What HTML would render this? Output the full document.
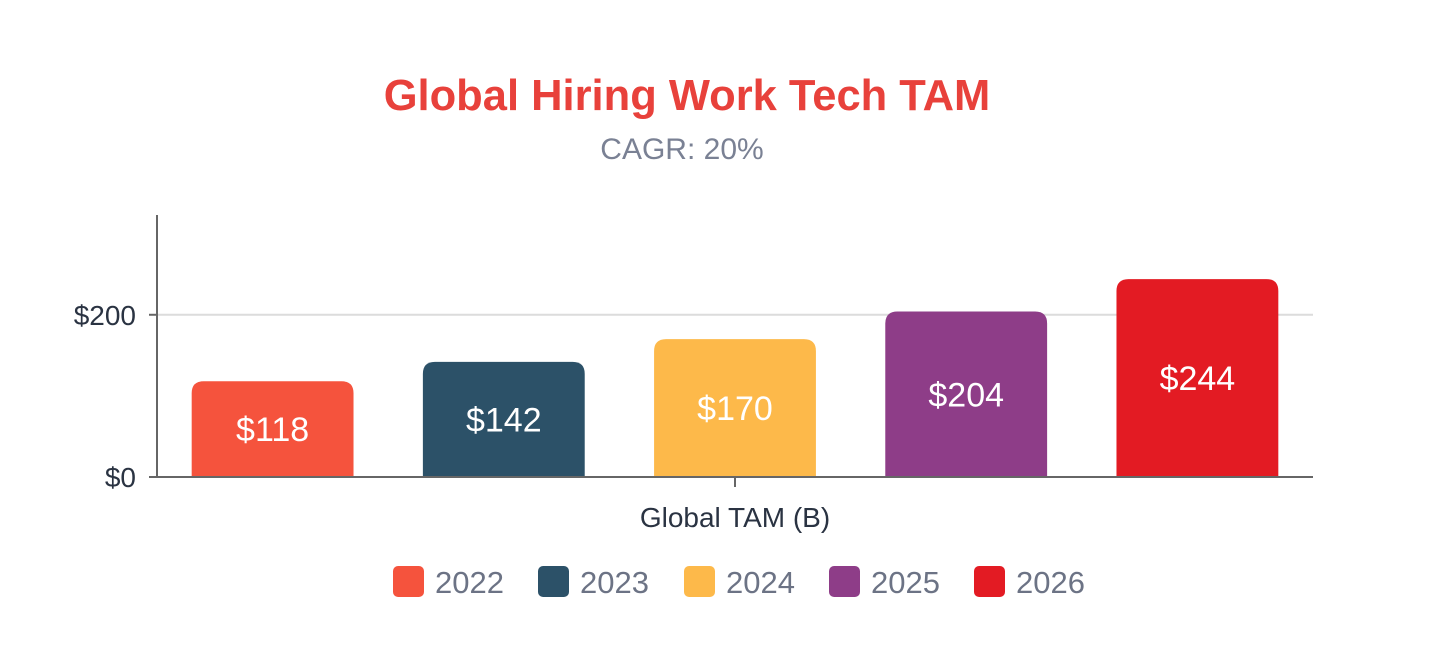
<!DOCTYPE html>
<html><head><meta charset="utf-8"><style>
html,body{margin:0;padding:0;background:#fff;width:1439px;height:667px;overflow:hidden}
svg{display:block;font-family:"Liberation Sans",sans-serif}
</style></head><body>
<svg id="chart" width="1439" height="667">
<text x="687" y="110" text-anchor="middle" font-size="43.5" font-weight="bold" fill="#e8413b">Global Hiring Work Tech TAM</text>
<text x="682" y="159" text-anchor="middle" font-size="30" fill="#7a8194">CAGR: 20%</text>
<g id="plot"></g>
<g id="legend"></g>
</svg>
<script>
const categories = ["2022","2023","2024","2025","2026"];
const values = [118,142,170,204,244];
const colors = ["#f5533d","#2c5168","#fdb94a","#8e3d88","#e31b23"];
const yTicks = [0,200];
const yTickLabels = ["$0","$200"];
const yMax = 323;
const NS="http://www.w3.org/2000/svg";
const x0=157,x1=1313,yBase=477,yTop=215;
const y=v=>yBase-(v/yMax)*(yBase-yTop);
const groupW=(x1-x0)/categories.length, barW=groupW*0.7;
const xb=i=>x0+i*groupW+(groupW-barW)/2;
const plot=document.getElementById('plot');
function mk(t,a,p){const e=document.createElementNS(NS,t);for(const k in a)e.setAttribute(k,a[k]);(p||plot).appendChild(e);return e;}
yTicks.forEach((t,i)=>{
  if(t>0){const g=mk('line',{x1:x0,x2:x1,y1:y(t),y2:y(t),stroke:'#dcdcdc','stroke-width':2});
  
  }
  const tk=mk('line',{x1:x0-8,x2:x0,y1:y(t),y2:y(t),stroke:'#666','stroke-width':2});
  
  
  const l=mk('text',{x:x0-21,y:y(t)+10,'text-anchor':'end','font-size':28,fill:'#2a3342'});
  l.textContent=yTickLabels[i];
  
  
});
values.forEach((v,i)=>{
  const bx=xb(i),by=y(v),h=yBase-by,r=12;
  const p=mk('path',{d:`M${bx},${yBase}V${by+r}Q${bx},${by} ${bx+r},${by}H${bx+barW-r}Q${bx+barW},${by} ${bx+barW},${by+r}V${yBase}Z`,fill:colors[i]});
  
  
  const t=mk('text',{x:bx+barW/2,y:by+h/2+12,'text-anchor':'middle','font-size':34,fill:'#fff'});
  t.textContent='$'+v;
  
  
});
const ya=mk('line',{x1:x0,x2:x0,y1:yTop,y2:yBase,stroke:'#666','stroke-width':2});


const xa=mk('line',{x1:x0-8,x2:x1,y1:yBase,y2:yBase,stroke:'#666','stroke-width':2});


const ct=mk('line',{x1:(x0+x1)/2,x2:(x0+x1)/2,y1:yBase,y2:yBase+10,stroke:'#666','stroke-width':2});


const xt=mk('text',{x:(x0+x1)/2,y:527,'text-anchor':'middle','font-size':28,fill:'#2a3342'});
xt.textContent='Global TAM (B)';


const lg=document.getElementById('legend');
const lx=[393,538,684,829,974];
categories.forEach((c,i)=>{
  const g=mk('g',{},lg);
  
  
  mk('rect',{x:lx[i],y:566,width:31,height:31,rx:5,fill:colors[i]},g);
  const t=mk('text',{x:lx[i]+42,y:593,'font-size':31,fill:'#6c7385'},g);
  t.textContent=c;
});
</script>
</body></html>
